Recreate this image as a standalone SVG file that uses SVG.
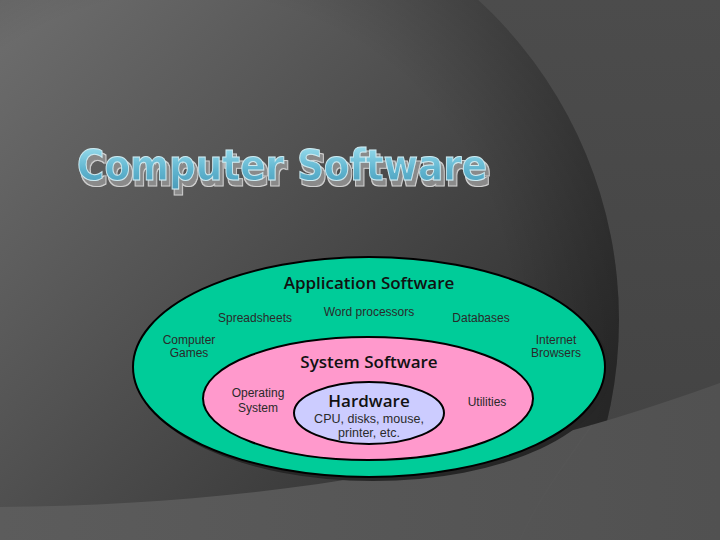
<svg xmlns="http://www.w3.org/2000/svg" width="720" height="540" viewBox="0 0 720 540">
<defs>
<linearGradient id="discGrad" x1="0" y1="0" x2="520" y2="470" gradientUnits="userSpaceOnUse">
<stop offset="0" stop-color="#6e6e6e"/>
<stop offset="0.45" stop-color="#525252"/>
<stop offset="1" stop-color="#2e2e2e"/>
</linearGradient>
<radialGradient id="rimGrad" cx="185" cy="320" r="434" gradientUnits="userSpaceOnUse">
<stop offset="0.75" stop-color="#000" stop-opacity="0"/>
<stop offset="1" stop-color="#000" stop-opacity="0.18"/>
</radialGradient>
<linearGradient id="outerGrad" x1="0" y1="0" x2="0" y2="1">
<stop offset="0" stop-color="#4c4c4c"/>
<stop offset="1" stop-color="#424242"/>
</linearGradient>
<linearGradient id="bandGrad" x1="0" y1="0" x2="1" y2="0">
<stop offset="0" stop-color="#5c5c5c"/>
<stop offset="1" stop-color="#515151"/>
</linearGradient>
<linearGradient id="titleGrad" x1="0" y1="0" x2="0" y2="1">
<stop offset="0" stop-color="#a6e6f4"/>
<stop offset="0.6" stop-color="#5fb4cf"/>
<stop offset="1" stop-color="#4a9ab8"/>
</linearGradient>
<filter id="titleShadow" x="-5%" y="-20%" width="115%" height="160%">
<feOffset in="SourceAlpha" dx="3" dy="5" result="off"/>
<feMorphology in="off" operator="dilate" radius="1" result="offBig"/>
<feFlood flood-color="#d0d0d0" result="c1"/>
<feComposite in="c1" in2="offBig" operator="in" result="rim"/>
<feFlood flood-color="#8a8a8a" result="c2"/>
<feComposite in="c2" in2="off" operator="in" result="sh"/>
<feMerge>
<feMergeNode in="rim"/>
<feMergeNode in="sh"/>
<feMergeNode in="SourceGraphic"/>
</feMerge>
</filter>
<style>
.ell{stroke:#000;stroke-width:2}
.head{font-family:"Open Sans","DejaVu Sans",sans-serif;font-weight:600;font-size:17px;fill:#111;text-anchor:middle}
.small{font-family:"Liberation Sans",Arial,sans-serif;font-size:12px;fill:#2a2a2a;text-anchor:middle}
.inner{font-family:"Liberation Sans",Arial,sans-serif;font-size:12.5px;fill:#2a2a2a;text-anchor:middle}
.title{font-family:"DejaVu Sans",sans-serif;font-weight:bold;font-size:43px}
</style>
</defs>
<!-- background -->
<rect x="0" y="0" width="720" height="540" fill="url(#outerGrad)"/>
<circle cx="185" cy="320" r="434" fill="url(#discGrad)"/>
<circle cx="185" cy="320" r="434" fill="url(#rimGrad)"/>
<path d="M0,507 C250,505 480,470 720,383 L720,540 L0,540 Z" fill="url(#bandGrad)"/>
<path d="M592,425 C560,470 535,505 520,540" fill="none" stroke="#5a5a5a" stroke-width="1.5" opacity="0.35"/>
<!-- title -->
<g id="title" filter="url(#titleShadow)">
<text class="title" x="77" y="180" textLength="410" lengthAdjust="spacingAndGlyphs" fill="url(#titleGrad)" stroke="#cfeaf0" stroke-width="1">Computer Software</text>
</g>
<!-- diagram -->
<g id="application">
<ellipse cx="373" cy="371" rx="237" ry="110" fill="#262626"/>
<ellipse class="ell" cx="369" cy="367" rx="236" ry="110" fill="#00cc99"/>
<text class="head" x="369" y="289">Application Software</text>
<text class="small" x="369" y="316">Word processors</text>
<text class="small" x="255" y="322">Spreadsheets</text>
<text class="small" x="481" y="322">Databases</text>
<text class="small" x="189" y="344">Computer</text>
<text class="small" x="189" y="357">Games</text>
<text class="small" x="556" y="344">Internet</text>
<text class="small" x="556" y="357">Browsers</text>
</g>
<g id="system">
<ellipse class="ell" cx="368" cy="398.5" rx="165" ry="61.5" fill="#ff99cc"/>
<text class="head" x="369" y="368">System Software</text>
<text class="small" x="258" y="397">Operating</text>
<text class="small" x="258" y="412">System</text>
<text class="small" x="487" y="406">Utilities</text>
</g>
<g id="hardware">
<ellipse class="ell" cx="369" cy="413" rx="75" ry="31" fill="#ccccff"/>
<text class="head" x="369" y="407">Hardware</text>
<text class="inner" x="369" y="423">CPU, disks, mouse,</text>
<text class="inner" x="369" y="437">printer, etc.</text>
</g>
<g id="connectors"/>
</svg>
